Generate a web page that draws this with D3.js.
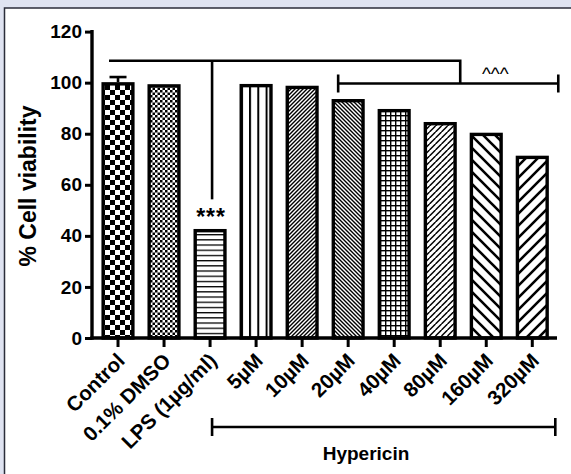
<!DOCTYPE html>
<html>
<head>
<meta charset="utf-8">
<script src="https://cdn.jsdelivr.net/npm/d3@7"></script>
<style>
  html, body { margin: 0; padding: 0; background: #dfe3f1; }
  svg { display: block; }
  text { font-family: "Liberation Sans", Arial, sans-serif; font-weight: bold; fill: #000; }
</style>
</head>
<body>
<svg id="chart"></svg>
<script>
// Data
const groups = ["Control", "0.1% DMSO", "LPS (1µg/ml)", "5µM", "10µM", "20µM", "40µM", "80µM", "160µM", "320µM"];
const viability = [100.2, 99.4, 42.7, 99.5, 98.8, 93.6, 89.7, 84.6, 80.4, 71.4];
const sem = [2.0, 0, 0, 0, 0, 0, 0, 0, 0, 0];
const yTicks = [0, 20, 40, 60, 80, 100, 120];
const patternIds = ["checkBig", "checkSmall", "hLines", "vLines", "diagUpDense", "diagDownDense", "grid", "weave", "diagDownWide", "diagUpWide"];

const W = 571, H = 474;
const svg = d3.select("#chart").attr("width", W).attr("height", H);

// white panel with dark border
svg.append("rect")
    .attr("x", 4.5).attr("y", 8)
    .attr("width", W + 10).attr("height", H + 10)
    .attr("fill", "#fff")
    .attr("stroke", "#2b2d3a")
    .attr("stroke-width", 1.5);

// Fill patterns
const defs = svg.append("defs");
function pattern(id, w, h) {
    const p = defs.append("pattern")
        .attr("id", id)
        .attr("patternUnits", "userSpaceOnUse")
        .attr("width", w).attr("height", h);
    p.append("rect").attr("width", w).attr("height", h).attr("fill", "#fff");
    return p;
}
let p = pattern("checkBig", 10, 10);
p.append("rect").attr("width", 5).attr("height", 5).attr("fill", "#000");
p.append("rect").attr("x", 5).attr("y", 5).attr("width", 5).attr("height", 5).attr("fill", "#000");

p = pattern("checkSmall", 5, 5);
p.append("rect").attr("width", 2.5).attr("height", 2.5).attr("fill", "#000");
p.append("rect").attr("x", 2.5).attr("y", 2.5).attr("width", 2.5).attr("height", 2.5).attr("fill", "#000");

p = pattern("hLines", 6, 5.2);
p.append("rect").attr("y", 0).attr("width", 6).attr("height", 1.3).attr("fill", "#000");

p = pattern("vLines", 8.3, 6);
p.append("rect").attr("x", 0).attr("width", 2).attr("height", 6).attr("fill", "#000");

p = pattern("diagUpDense", 4, 4);
p.append("path").attr("d", "M-1,1 L1,-1 M0,4 L4,0 M3,5 L5,3").attr("stroke", "#000").attr("stroke-width", 1.4);

p = pattern("diagDownDense", 4, 4);
p.append("path").attr("d", "M-1,3 L1,5 M0,0 L4,4 M3,-1 L5,1").attr("stroke", "#000").attr("stroke-width", 1.4);

p = pattern("grid", 5, 5);
p.append("rect").attr("width", 5).attr("height", 1.4).attr("fill", "#000");
p.append("rect").attr("width", 1.4).attr("height", 5).attr("fill", "#000");

p = pattern("weave", 6, 6);
p.append("path").attr("d", "M0.5,3 L3.5,0 M3.5,6 L6.5,3 M-2.5,6 L0.5,3")
    .attr("stroke", "#000").attr("stroke-width", 1.5);

p = pattern("diagDownWide", 12, 12);
p.append("path").attr("d", "M-3,9 L3,15 M0,0 L12,12 M9,-3 L15,3").attr("stroke", "#000").attr("stroke-width", 2.6);

p = pattern("diagUpWide", 12, 12);
p.append("path").attr("d", "M-3,3 L3,-3 M0,12 L12,0 M9,15 L15,9").attr("stroke", "#000").attr("stroke-width", 2.6);

// Scales
const x = d3.scaleBand()
    .domain(groups)
    .range([95, 555.3])
    .paddingInner(0.28)
    .paddingOuter(0.14);
const y = d3.scaleLinear().domain([0, 120]).range([338, 31.6]);
const bw = x.bandwidth();
const cx = i => x(groups[i]) + bw / 2;

// Bars
const sw = 3.4;
const bars = svg.append("g");
bars.selectAll("rect")
    .data(groups)
    .join("rect")
    .attr("x", d => x(d) + sw / 2)
    .attr("width", bw - sw)
    .attr("y", (d, i) => y(viability[i]) + sw / 2)
    .attr("height", (d, i) => y(0) - y(viability[i]) - sw / 2)
    .attr("fill", (d, i) => `url(#${patternIds[i]})`)
    .attr("stroke", "#000")
    .attr("stroke-width", sw);

// Error bars (only where visible)
const err = svg.append("g").attr("stroke", "#000").attr("stroke-width", 2.6);
groups.forEach((g, i) => {
    if (!sem[i]) return;
    const top = y(viability[i] + sem[i]);
    err.append("line").attr("x1", cx(i)).attr("x2", cx(i))
        .attr("y1", y(viability[i])).attr("y2", top);
    err.append("line").attr("x1", cx(i) - 8.5).attr("x2", cx(i) + 8.5)
        .attr("y1", top).attr("y2", top);
});

// Axes
const yAxis = svg.append("g")
    .attr("transform", "translate(92,0)")
    .call(d3.axisLeft(y).tickValues(yTicks).tickSize(7).tickPadding(3));
const xAxis = svg.append("g")
    .attr("transform", `translate(0,${y(0)})`)
    .call(d3.axisBottom(x).tickSize(9).tickFormat(""));
[yAxis, xAxis].forEach(a => {
    a.select(".domain").attr("stroke", "#000").attr("stroke-width", 3.4);
    a.selectAll(".tick line").attr("stroke", "#000").attr("stroke-width", 3);
});
xAxis.select(".domain").attr("d", "M90.3,0H557");
yAxis.select(".domain").attr("d", "M0,30H0V339.7");
yAxis.selectAll(".tick text")
    .style("font-family", "Liberation Sans, Arial, sans-serif")
    .style("font-weight", "bold")
    .style("font-size", "19px")
    .attr("fill", "#000");

// rotated category labels
svg.append("g").selectAll("text")
    .data(groups)
    .join("text")
    .attr("transform", (d, i) => `translate(${cx(i) + 8},${y(0) + 24}) rotate(-45)`)
    .attr("text-anchor", "end")
    .style("font-size", "20.5px")
    .text(d => d);

// Y title
svg.append("text")
    .attr("transform", "translate(36,186) rotate(-90)")
    .attr("text-anchor", "middle")
    .style("font-size", "23px")
    .text("% Cell viability");

// Significance brackets
const br = svg.append("g").attr("stroke", "#000").attr("stroke-width", 2.6).attr("fill", "none");
const yTop = y(108.6), ySecond = y(99.7);
br.append("path").attr("d", `M${cx(0) - 9},${yTop}H${cx(7) + 20}V${ySecond}`);
br.append("path").attr("d", `M${cx(2) + 2},${yTop}V${y(54.3)}`);
br.append("path").attr("d", `M${cx(5) - 10},${ySecond}H${cx(9) + 26}`);
br.append("path").attr("d", `M${cx(5) - 10},${ySecond - 9}V${ySecond + 9}M${cx(9) + 26},${ySecond - 9}V${ySecond + 9}`);

svg.append("text")
    .attr("x", cx(2) + 1).attr("y", 225)
    .attr("text-anchor", "middle")
    .style("font-size", "23px")
    .style("letter-spacing", "1px")
    .text("***");
svg.append("text")
    .attr("x", cx(8) + 9).attr("y", 80)
    .attr("text-anchor", "middle")
    .style("font-size", "19px")
    .style("font-weight", "normal")
    .text("^^^");

// Hypericin bracket
const yH = 427;
br.append("path").attr("d", `M${cx(2) + 2},${yH}H${x.range()[1]}`);
br.append("path").attr("d", `M${cx(2) + 2},${yH - 9}V${yH + 9}M${x.range()[1]},${yH - 9}V${yH + 9}`);
svg.append("text")
    .attr("x", 366).attr("y", 460)
    .attr("text-anchor", "middle")
    .style("font-size", "19px")
    .text("Hypericin");
</script>
</body>
</html>
